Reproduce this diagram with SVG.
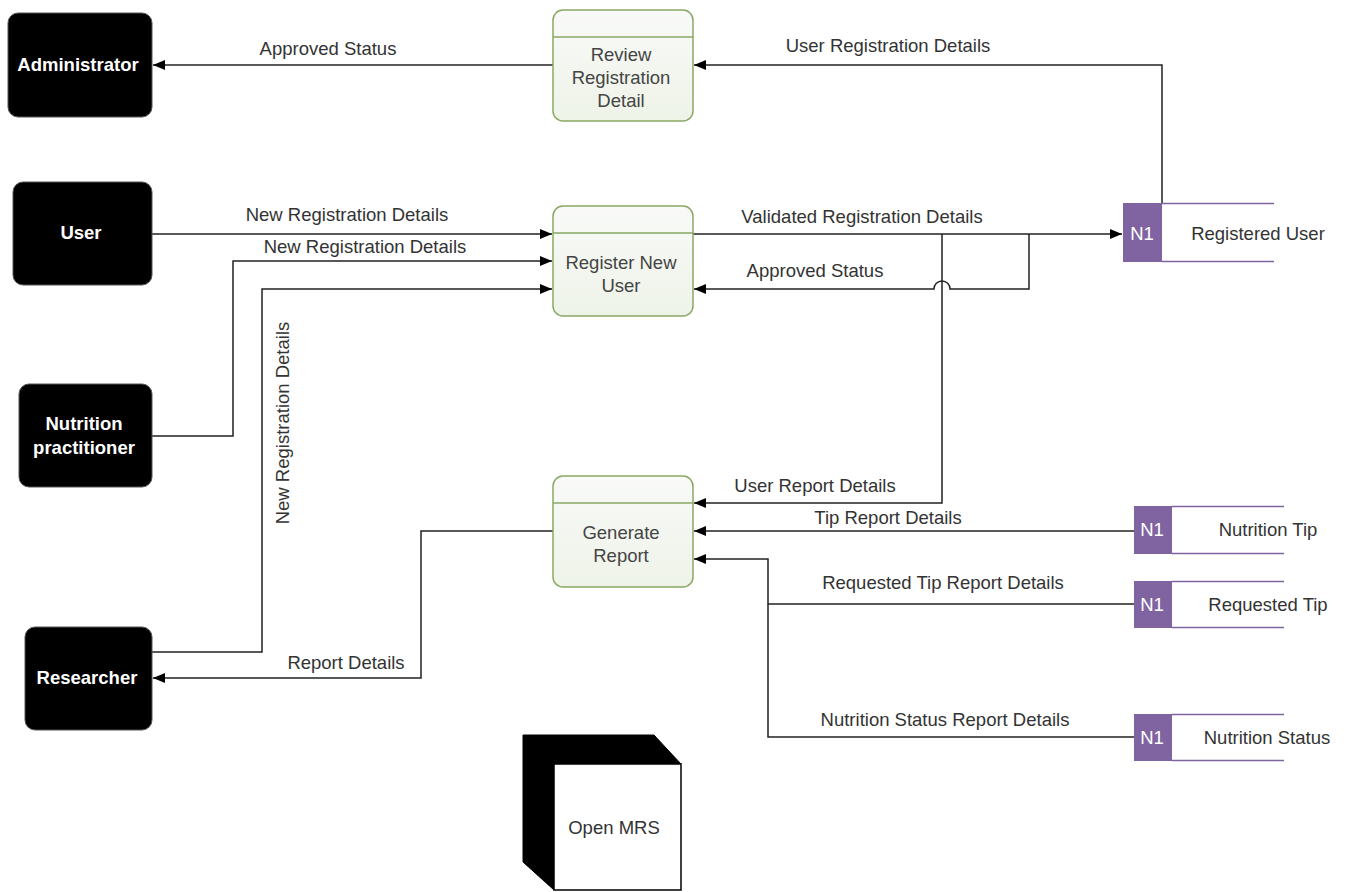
<svg xmlns="http://www.w3.org/2000/svg" width="1350" height="892" viewBox="0 0 1350 892">
<defs>
<linearGradient id="pg" x1="0" y1="0" x2="0" y2="1">
<stop offset="0" stop-color="#f9faf8"/>
<stop offset="1" stop-color="#eef3e8"/>
</linearGradient>
<marker id="ah" markerWidth="12" markerHeight="10" refX="12" refY="5" orient="auto" markerUnits="userSpaceOnUse">
<path d="M0,0 L12,5 L0,10 Z" fill="#000"/>
</marker>
<style>
.ent{fill:#000;stroke:#555;stroke-width:1}
.entt{fill:#fff;font-family:"Liberation Sans",Arial,sans-serif;font-size:18.5px;font-weight:bold;text-anchor:middle}
.proc{fill:url(#pg);stroke:#8aa864;stroke-width:1.5}
.hdr{stroke:#8aa864;stroke-width:1.5}
.pt{fill:#444;font-family:"Liberation Sans",Arial,sans-serif;font-size:18.5px;text-anchor:middle}
.ds{fill:#8064a2}
.dsl{stroke:#8064a2;stroke-width:1.5;fill:none}
.dst{fill:#fff;font-family:"Liberation Sans",Arial,sans-serif;font-size:18.5px;text-anchor:middle}
.dsn{fill:#333;font-family:"Liberation Sans",Arial,sans-serif;font-size:18.5px;text-anchor:middle}
.c{stroke:#222;stroke-width:1.5;fill:none}
.ca{stroke:#222;stroke-width:1.5;fill:none;marker-end:url(#ah)}
.lbl{fill:#333;font-family:"Liberation Sans",Arial,sans-serif;font-size:18.5px;text-anchor:middle}
</style>
</defs>
<rect width="1350" height="892" fill="#fff"/>

<g id="connectors">
<path class="ca" d="M553,65 L153,65"/>
<text class="lbl" x="328" y="55">Approved Status</text>
<path class="ca" d="M1162,203 L1162,65 L694,65"/>
<text class="lbl" x="888" y="52">User Registration Details</text>
<path class="ca" d="M152,234 L552,234"/>
<text class="lbl" x="347" y="221">New Registration Details</text>
<path class="ca" d="M152,436 L233,436 L233,261 L552,261"/>
<text class="lbl" x="365" y="253">New Registration Details</text>
<path class="ca" d="M152,652 L262,652 L262,289 L552,289"/>
<text class="lbl" transform="translate(289,423) rotate(-90)">New Registration Details</text>
<path class="ca" d="M693,234 L1122,234"/>
<text class="lbl" x="862" y="223">Validated Registration Details</text>
<path class="ca" d="M1029,234 L1029,289 L950,289 A8,8 0 0 0 934,289 L694,289"/>
<text class="lbl" x="815" y="277">Approved Status</text>
<path class="ca" d="M942,234 L942,503 L694,503"/>
<text class="lbl" x="815" y="492">User Report Details</text>
<path class="ca" d="M1134,531 L694,531"/>
<text class="lbl" x="888" y="524">Tip Report Details</text>
<path class="ca" d="M1134,604 L768,604 L768,559 L694,559"/>
<text class="lbl" x="943" y="589">Requested Tip Report Details</text>
<path class="c" d="M1134,737 L768,737 L768,604"/>
<text class="lbl" x="945" y="726">Nutrition Status Report Details</text>
<path class="ca" d="M553,531 L421,531 L421,678 L153,678"/>
<text class="lbl" x="346" y="669">Report Details</text>
</g>

<g id="administrator">
<rect class="ent" x="8" y="13" width="144" height="104" rx="10"/>
<text class="entt" x="78" y="71">Administrator</text>
</g>
<g id="user">
<rect class="ent" x="13" y="182" width="139" height="103" rx="10"/>
<text class="entt" x="81" y="239">User</text>
</g>
<g id="nutrition-practitioner">
<rect class="ent" x="19" y="384" width="133" height="103" rx="10"/>
<text class="entt" x="84" y="430">Nutrition</text>
<text class="entt" x="84" y="454">practitioner</text>
</g>
<g id="researcher">
<rect class="ent" x="25" y="627" width="127" height="103" rx="10"/>
<text class="entt" x="87" y="684">Researcher</text>
</g>

<g id="review-registration-detail">
<rect class="proc" x="553" y="10" width="140" height="111" rx="10"/>
<line class="hdr" x1="553" y1="37" x2="693" y2="37"/>
<text class="pt" x="621" y="61">Review</text>
<text class="pt" x="621" y="84">Registration</text>
<text class="pt" x="621" y="107">Detail</text>
</g>
<g id="register-new-user">
<rect class="proc" x="553" y="206" width="140" height="110" rx="10"/>
<line class="hdr" x1="553" y1="233" x2="693" y2="233"/>
<text class="pt" x="621" y="269">Register New</text>
<text class="pt" x="621" y="292">User</text>
</g>
<g id="generate-report">
<rect class="proc" x="553" y="476" width="140" height="111" rx="10"/>
<line class="hdr" x1="553" y1="503" x2="693" y2="503"/>
<text class="pt" x="621" y="539">Generate</text>
<text class="pt" x="621" y="562">Report</text>
</g>

<g id="registered-user">
<rect class="ds" x="1123" y="203" width="39" height="59"/>
<path class="dsl" d="M1162,203.5 L1274,203.5 M1162,261.5 L1274,261.5"/>
<text class="dst" x="1142" y="240">N1</text>
<text class="dsn" x="1258" y="240">Registered User</text>
</g>
<g id="nutrition-tip">
<rect class="ds" x="1134" y="506" width="38" height="48"/>
<path class="dsl" d="M1172,506.5 L1284,506.5 M1172,553.5 L1284,553.5"/>
<text class="dst" x="1152" y="536">N1</text>
<text class="dsn" x="1268" y="536">Nutrition Tip</text>
</g>
<g id="requested-tip">
<rect class="ds" x="1134" y="581" width="38" height="47"/>
<path class="dsl" d="M1172,581.5 L1284,581.5 M1172,627.5 L1284,627.5"/>
<text class="dst" x="1152" y="611">N1</text>
<text class="dsn" x="1268" y="611">Requested Tip</text>
</g>
<g id="nutrition-status">
<rect class="ds" x="1134" y="714" width="38" height="47"/>
<path class="dsl" d="M1172,714.5 L1284,714.5 M1172,760.5 L1284,760.5"/>
<text class="dst" x="1152" y="744">N1</text>
<text class="dsn" x="1267" y="744">Nutrition Status</text>
</g>

<g id="open-mrs">
<path d="M523,735 L654,735 L681,764 L554,764 L554,890 L523,862 Z" fill="#000" stroke="#000"/>
<rect x="554" y="764" width="127" height="126" fill="#fff" stroke="#000" stroke-width="1.5"/>
<text class="dsn" x="614" y="834">Open MRS</text>
</g>
</svg>
